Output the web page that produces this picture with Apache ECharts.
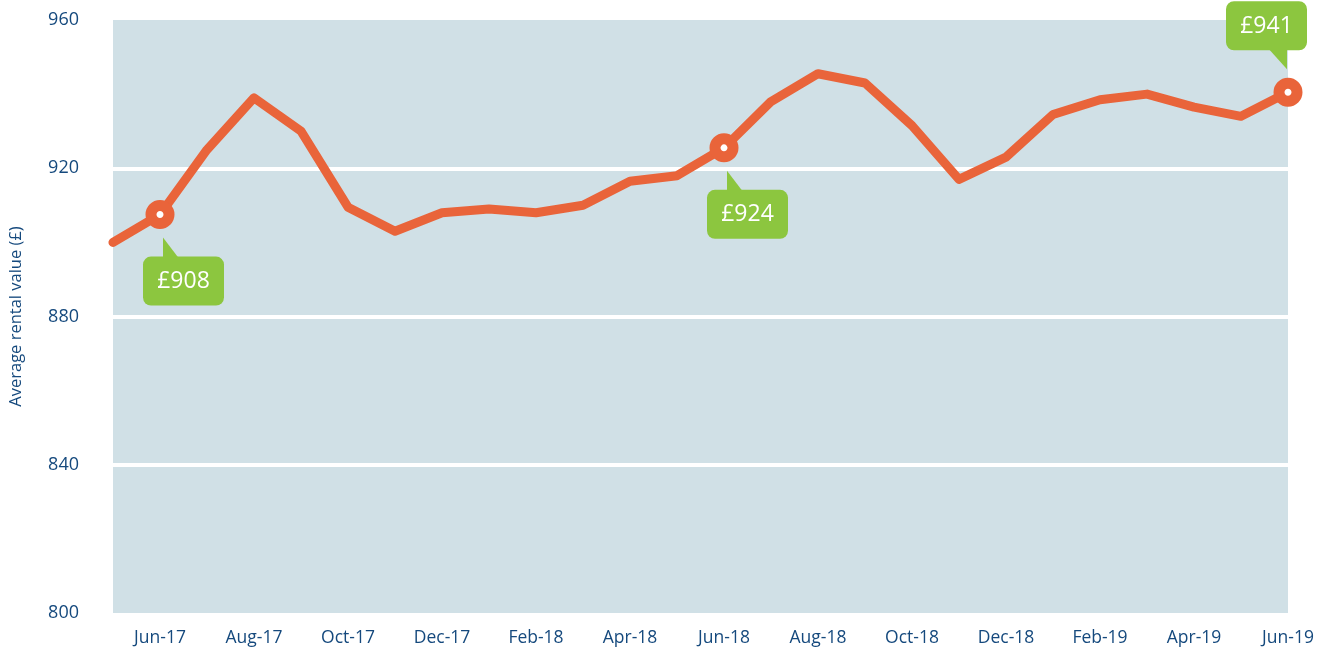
<!DOCTYPE html>
<html>
<head>
<meta charset="utf-8">
<script src="https://cdn.jsdelivr.net/npm/echarts@6/dist/echarts.min.js"></script>
<style>
  html, body { margin: 0; padding: 0; background: #fff; }
  #main { width: 1317px; height: 651px; }
</style>
</head>
<body>
<div id="main"></div>
<script>
var months = ['May-17', 'Jun-17', 'Jul-17', 'Aug-17', 'Sep-17', 'Oct-17', 'Nov-17', 'Dec-17',
  'Jan-18', 'Feb-18', 'Mar-18', 'Apr-18', 'May-18', 'Jun-18', 'Jul-18', 'Aug-18', 'Sep-18',
  'Oct-18', 'Nov-18', 'Dec-18', 'Jan-19', 'Feb-19', 'Mar-19', 'Apr-19', 'May-19', 'Jun-19'];
var rents = [900, 907.5, 925, 939, 930, 909.5, 903, 908, 909, 908, 910, 916.5, 918, 925.5,
  938, 945.5, 943, 931.5, 917, 923, 934.5, 938.5, 940, 936.5, 934, 940.5];
// points that get a callout, the text shown and which side the box sits on
var calloutIdx = [1, 13, 25];
var calloutText = ['£908', '£924', '£941'];
var calloutSide = ['below', 'below', 'above'];

var textBlue = '#15497d';
var font = 'Open Sans';
var orange = '#e9643a';
var green = '#8cc63f';

var myChart = echarts.init(document.getElementById('main'));

var calloutData = calloutIdx.map(function (i, k) {
  return [i, rents[i], calloutSide[k], calloutText[k]];
});

var option = {
  animation: false,
  grid: {
    left: 110, right: 29, top: 20, bottom: 38,
    show: true, backgroundColor: '#d0e0e6', borderWidth: 0
  },
  xAxis: {
    type: 'category',
    data: months,
    boundaryGap: false,
    axisLine: { show: false },
    axisTick: { show: false },
    axisLabel: {
      interval: function (i) { return i % 2 === 1; },
      color: textBlue, fontFamily: font, fontSize: 17.5, margin: 16
    },
    splitLine: { show: false }
  },
  yAxis: {
    type: 'value',
    min: 800, max: 960, interval: 40,
    name: 'Average rental value (£)',
    nameLocation: 'middle',
    nameGap: 88,
    nameTextStyle: { color: textBlue, fontFamily: font, fontSize: 16.5 },
    axisLine: { show: false },
    axisTick: { show: false },
    axisLabel: { color: textBlue, fontFamily: font, fontSize: 18, margin: 34 },
    splitLine: { show: true, showMinLine: false, showMaxLine: false, lineStyle: { color: '#fff', width: 4 } }
  },
  series: [
    {
      type: 'line',
      data: rents,
      z: 3,
      lineStyle: { color: orange, width: 9, cap: 'round', join: 'round' },
      showSymbol: true,
      symbol: 'circle',
      symbolSize: function (v, p) { return calloutIdx.indexOf(p.dataIndex) >= 0 ? 18 : 0; },
      itemStyle: { color: '#fff', borderColor: orange, borderWidth: 11 }
    },
    {
      type: 'custom',
      z: 5,
      clip: false,
      data: calloutData,
      renderItem: function (params, api) {
        var pt = api.coord([api.value(0), api.value(1)]);
        var item = calloutData[params.dataIndex];
        var bx, by, tri;
        if (item[2] === 'below') {
          bx = pt[0] - 17; by = pt[1] + 42;
          tri = [[pt[0] + 3, pt[1] + 23], [pt[0] + 3, pt[1] + 44], [pt[0] + 19, pt[1] + 44]];
        } else {
          bx = pt[0] - 62; by = pt[1] - 91;
          tri = [[pt[0] - 19, pt[1] - 43], [pt[0] - 1, pt[1] - 43], [pt[0] - 1, pt[1] - 23]];
        }
        return {
          type: 'group',
          children: [
            { type: 'polygon', shape: { points: tri }, style: { fill: green } },
            { type: 'rect', shape: { x: bx, y: by, width: 81, height: 49, r: 8 }, style: { fill: green } },
            {
              type: 'text',
              style: {
                text: item[3], x: bx + 40.5, y: by + 25, align: 'center', verticalAlign: 'middle',
                fill: '#fff', fontSize: 23, fontFamily: font
              }
            }
          ]
        };
      }
    }
  ]
};
myChart.setOption(option);
</script>
</body>
</html>
